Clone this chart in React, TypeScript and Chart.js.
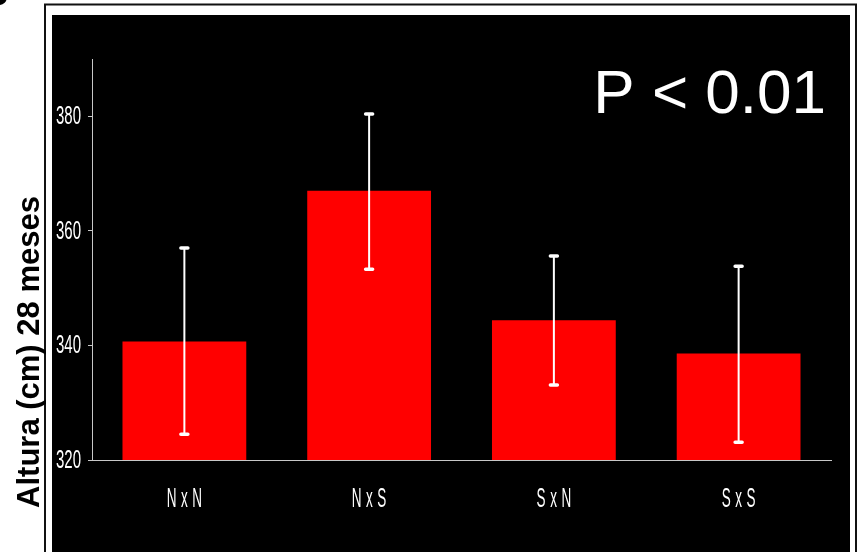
import React, { useEffect, useRef } from 'react';
import { Chart, registerables } from 'chart.js';

Chart.register(...registerables);

const categories = ['NxN', 'NxS', 'SxN', 'SxS'];
const means = [340.7, 367.0, 344.4, 338.6];
const errUpper = [357.0, 380.4, 355.6, 353.8];
const errLower = [324.5, 353.3, 333.1, 323.1];
const yTicks = [320, 340, 360, 380];
const yMin = 320;
const yMax = 390;
const yTitle = 'Altura (cm) 28 meses';
const pText = 'P < 0.01';

const sans = "'Liberation Sans', Arial, sans-serif";

export default function App() {
  const ref = useRef<HTMLCanvasElement>(null);

  useEffect(() => {
    document.body.style.margin = '0';
    const canvas = ref.current!;

    const decor = {
      id: 'decor',
      beforeDraw(chart: any) {
        const ctx = chart.ctx;
        ctx.save();
        ctx.fillStyle = '#ffffff';
        ctx.fillRect(0, 0, chart.width, chart.height);
        ctx.fillStyle = '#000000';
        ctx.beginPath();
        ctx.arc(-1, -3, 8, 0, Math.PI * 2);
        ctx.fill();
        ctx.strokeStyle = '#111111';
        ctx.lineWidth = 2;
        ctx.strokeRect(45, 4.5, 811, 700);
        ctx.fillStyle = '#000000';
        ctx.fillRect(52, 15, 798, 700);
        ctx.restore();
      },
      afterDatasetsDraw(chart: any) {
        const ctx = chart.ctx;
        const meta = chart.getDatasetMeta(0);
        const ys = chart.scales.y;
        ctx.save();
        ctx.strokeStyle = '#ffffff';
        meta.data.forEach((bar: any, i: number) => {
          const x = bar.x;
          const yt = ys.getPixelForValue(errUpper[i]);
          const yb = ys.getPixelForValue(errLower[i]);
          ctx.lineWidth = 2;
          ctx.lineCap = 'butt';
          ctx.beginPath();
          ctx.moveTo(x, yt);
          ctx.lineTo(x, yb);
          ctx.stroke();
          ctx.lineWidth = 3.5;
          ctx.lineCap = 'round';
          ctx.beginPath();
          ctx.moveTo(x - 3.5, yt);
          ctx.lineTo(x + 3.5, yt);
          ctx.moveTo(x - 3.5, yb);
          ctx.lineTo(x + 3.5, yb);
          ctx.stroke();
        });
        ctx.restore();
      },
      afterDraw(chart: any) {
        const ctx = chart.ctx;
        const xs = chart.scales.x;
        const ys = chart.scales.y;

        // y tick labels (condensed)
        ctx.save();
        ctx.fillStyle = '#ffffff';
        ctx.font = `25px ${sans}`;
        ctx.textAlign = 'right';
        ctx.textBaseline = 'middle';
        ys.ticks.forEach((t: any) => {
          const y = ys.getPixelForValue(t.value);
          ctx.save();
          ctx.translate(ys.right - 11, y + 1);
          ctx.scale(0.6, 1);
          ctx.fillText(String(t.value), 0, 0);
          ctx.restore();
        });
        ctx.restore();

        // x tick labels (condensed, letter-spaced)
        ctx.save();
        ctx.fillStyle = '#ffffff';
        ctx.font = `27px ${sans}`;
        ctx.textAlign = 'left';
        ctx.textBaseline = 'middle';
        const sx = 0.5;
        const gap = 4.5;
        categories.forEach((label, i) => {
          const cx = xs.getPixelForTick(i);
          const chars = label.split('');
          const widths = chars.map((c) => ctx.measureText(c).width * sx);
          const total = widths.reduce((a, b) => a + b, 0) + gap * (chars.length - 1);
          let x = cx - total / 2;
          chars.forEach((c, k) => {
            ctx.save();
            ctx.translate(x, xs.top + 40);
            ctx.scale(sx, 1);
            ctx.fillText(c, 0, 0);
            ctx.restore();
            x += widths[k] + gap;
          });
        });
        ctx.restore();

        // annotation
        ctx.save();
        ctx.fillStyle = '#ffffff';
        ctx.font = `62px ${sans}`;
        ctx.textAlign = 'right';
        ctx.textBaseline = 'alphabetic';
        ctx.fillText(pText, 826, 113);
        ctx.restore();

        // y axis title
        ctx.save();
        ctx.fillStyle = '#000000';
        ctx.font = `bold 31px ${sans}`;
        ctx.translate(39, 352);
        ctx.rotate(-Math.PI / 2);
        ctx.textAlign = 'center';
        ctx.textBaseline = 'alphabetic';
        ctx.fillText(yTitle, 0, 0);
        ctx.restore();
      },
    };

    const chart = new Chart(canvas, {
      type: 'bar',
      data: {
        labels: categories,
        datasets: [
          {
            data: means,
            backgroundColor: '#ff0000',
            borderWidth: 0,
            barPercentage: 0.67,
            categoryPercentage: 1,
          },
        ],
      },
      options: {
        animation: false,
        responsive: false,
        maintainAspectRatio: false,
        layout: { padding: { left: 52, right: 33, top: 59, bottom: 0 } },
        plugins: { legend: { display: false }, tooltip: { enabled: false } },
        scales: {
          x: {
            grid: { display: false },
            border: { display: true, color: '#c8c8c8', width: 1 },
            ticks: { display: false },
            afterFit(scale: any) {
              scale.height = 92;
            },
          },
          y: {
            min: yMin,
            max: yMax,
            grid: {
              display: true,
              drawOnChartArea: false,
              drawTicks: true,
              tickLength: 4,
              color: '#c8c8c8',
            },
            border: { display: true, color: '#c8c8c8', width: 1 },
            ticks: { display: false },
            afterBuildTicks(scale: any) {
              scale.ticks = yTicks.map((v) => ({ value: v }));
            },
            afterFit(scale: any) {
              scale.width = 40;
            },
          },
        },
      },
      plugins: [decor],
    });

    return () => chart.destroy();
  }, []);

  return (
    <div style={{ width: 864, height: 552 }}>
      <canvas ref={ref} width={864} height={552} style={{ display: 'block' }} />
    </div>
  );
}
